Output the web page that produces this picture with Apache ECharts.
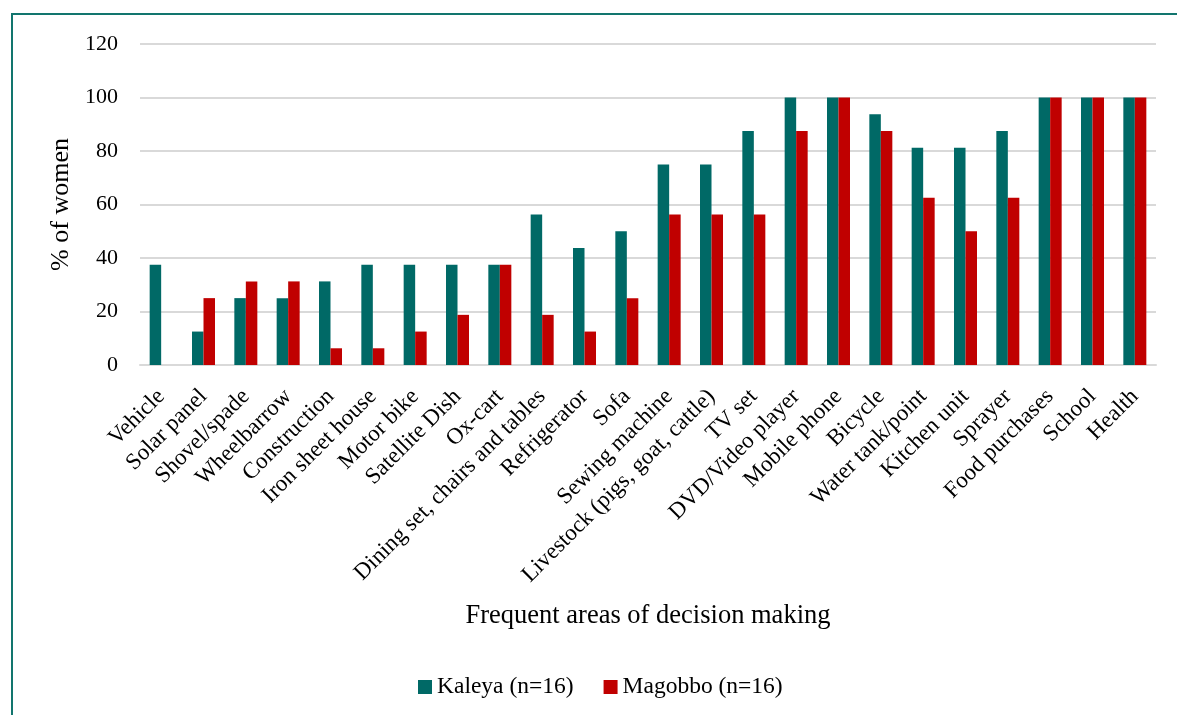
<!DOCTYPE html>
<html>
<head>
<meta charset="utf-8">
<script src="https://cdn.jsdelivr.net/npm/echarts@6/dist/echarts.min.js"></script>
<style>
  html, body { margin: 0; padding: 0; background: #fff; }
  #frame { position: absolute; left: 11px; top: 13px; width: 1200px; height: 760px; border: 2px solid #12756e; box-sizing: border-box; }
  #chart { position: absolute; left: 0; top: 0; width: 1177px; height: 715px; }
</style>
</head>
<body>
<div id="frame"></div>
<div id="chart"></div>
<script>
// 决策领域
var categories = ['Vehicle', 'Solar panel', 'Shovel/spade', 'Wheelbarrow', 'Construction', 'Iron sheet house',
  'Motor bike', 'Satellite Dish', 'Ox-cart', 'Dining set, chairs and tables', 'Refrigerator', 'Sofa',
  'Sewing machine', 'Livestock (pigs, goat, cattle)', 'TV set', 'DVD/Video player', 'Mobile phone', 'Bicycle',
  'Water tank/point', 'Kitchen unit', 'Sprayer', 'Food purchases', 'School', 'Health'];
var kaleya = [37.5, 12.5, 25, 25, 31.25, 37.5, 37.5, 37.5, 37.5, 56.25, 43.75, 50,
  75, 75, 87.5, 100, 100, 93.75, 81.25, 81.25, 87.5, 100, 100, 100];
var magobbo = [0, 25, 31.25, 31.25, 6.25, 6.25, 12.5, 18.75, 37.5, 18.75, 12.5, 25,
  56.25, 56.25, 56.25, 87.5, 100, 87.5, 62.5, 50, 62.5, 100, 100, 100];
var yTicks = [0, 20, 40, 60, 80, 100, 120];

var font = '"Liberation Serif", "Times New Roman", serif';
var myChart = echarts.init(document.getElementById('chart'));

var option = {
  animation: false,
  textStyle: { fontFamily: font, color: '#000' },
  grid: { left: 140, right: 21, top: 44, bottom: 350, containLabel: false },
  legend: {
    data: ['Kaleya (n=16)', 'Magobbo (n=16)'],
    top: 670,
    left: 413,
    icon: 'rect',
    itemWidth: 14,
    itemHeight: 14,
    itemGap: 30,
    textStyle: { fontFamily: font, fontSize: 23.5, color: '#000' }
  },
  xAxis: {
    type: 'category',
    data: categories,
    name: 'Frequent areas of decision making',
    nameLocation: 'middle',
    nameGap: 238,
    nameTextStyle: { fontFamily: font, fontSize: 26.5, color: '#000' },
    axisTick: { show: false },
    axisLine: { lineStyle: { color: '#d9d9d9', width: 2 } },
    axisLabel: { interval: 0, rotate: 45, fontSize: 23, color: '#000', fontFamily: font, margin: 28 }
  },
  yAxis: {
    type: 'value',
    min: 0,
    max: yTicks[yTicks.length - 1],
    interval: 20,
    name: '% of women',
    nameLocation: 'middle',
    nameGap: 65,
    nameTextStyle: { fontFamily: font, fontSize: 26, color: '#000' },
    axisLine: { show: false },
    axisTick: { show: false },
    axisLabel: { fontSize: 22, color: '#000', fontFamily: font, margin: 22 },
    splitLine: { lineStyle: { color: '#d9d9d9', width: 2 } }
  },
  series: [
    {
      name: 'Kaleya (n=16)',
      type: 'bar',
      data: kaleya,
      barWidth: 11.5,
      barGap: '0%',
      itemStyle: { color: '#006966' }
    },
    {
      name: 'Magobbo (n=16)',
      type: 'bar',
      data: magobbo,
      barWidth: 11.5,
      itemStyle: { color: '#c00000' }
    }
  ]
};

myChart.setOption(option);
</script>
</body>
</html>
